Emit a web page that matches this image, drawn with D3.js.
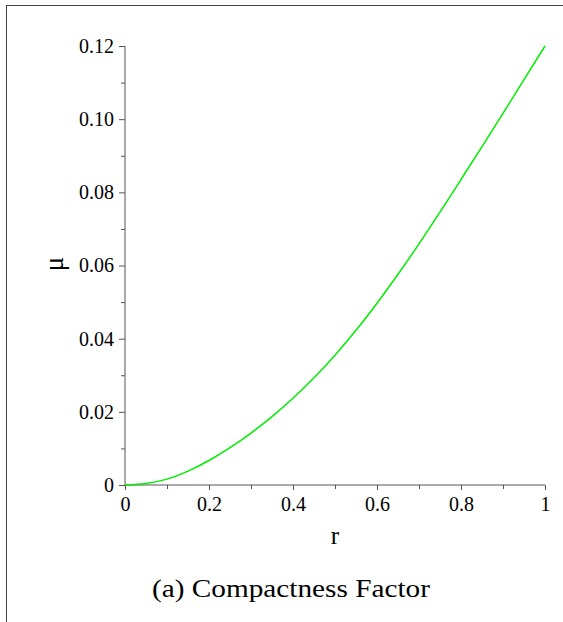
<!DOCTYPE html>
<html>
<head>
<meta charset="utf-8">
<script src="https://cdn.jsdelivr.net/npm/d3@7"></script>
<style>
  html, body { margin: 0; padding: 0; background: #fff; }
  svg { display: block; }
  text { font-family: "Liberation Serif", "Times New Roman", serif; fill: #000; }
</style>
</head>
<body>
<svg id="chart" width="563" height="622"></svg>
<script>
// Compactness factor mu(r) along the radius
const radius = [0, 0.05, 0.1, 0.15, 0.2, 0.25, 0.3, 0.35, 0.4, 0.45, 0.5,
                0.55, 0.6, 0.65, 0.7, 0.75, 0.8, 0.85, 0.9, 0.95, 1];
const mu = [0, 0.0004, 0.0016, 0.0038, 0.0067, 0.0102, 0.0142, 0.0187, 0.0237, 0.0293, 0.0355,
            0.0423, 0.0497, 0.0576, 0.0659, 0.0746, 0.0835, 0.0925, 0.1016, 0.1108, 0.1200];

const xTicks = [0, 0.2, 0.4, 0.6, 0.8, 1];
const xMinorTicks = [0.1, 0.3, 0.5, 0.7, 0.9];
const yTicks = [0, 0.02, 0.04, 0.06, 0.08, 0.10, 0.12];
const yMinorTicks = [0.01, 0.03, 0.05, 0.07, 0.09, 0.11];
const yTickLabels = ["0", "0.02", "0.04", "0.06", "0.08", "0.10", "0.12"];
const xTickLabels = ["0", "0.2", "0.4", "0.6", "0.8", "1"];

const svg = d3.select("#chart");
const axisColor = "#555";

// frame lines along the top and left edges
svg.append("line").attr("x1", 6).attr("x2", 563).attr("y1", 5.5).attr("y2", 5.5)
  .attr("stroke", "#444").attr("stroke-width", 1);
svg.append("line").attr("x1", 6.5).attr("x2", 6.5).attr("y1", 5).attr("y2", 622)
  .attr("stroke", "#444").attr("stroke-width", 1);

const x = d3.scaleLinear().domain([0, 1]).range([125, 545]);
const y = d3.scaleLinear().domain([0, 0.12]).range([485, 46]);

// x axis
const gx = svg.append("g").attr("transform", `translate(0,${y(0)})`);
gx.call(d3.axisBottom(x).tickValues(xTicks).tickSize(5).tickPadding(7)
  .tickFormat((d, i) => xTickLabels[i]));
gx.append("g").call(d3.axisBottom(x).tickValues(xMinorTicks).tickSize(4).tickFormat(""));
gx.selectAll("path.domain").attr("stroke", axisColor).attr("d", `M${x(0)},0H${x(1)}`);
gx.selectAll(".tick line").attr("stroke", axisColor);
gx.selectAll(".tick text").attr("font-size", 20).attr("font-family", "Liberation Serif").attr("fill", "#000");
gx.selectAll("g > g > path.domain").remove();

// y axis
const gy = svg.append("g").attr("transform", `translate(${x(0)},0)`);
gy.call(d3.axisLeft(y).tickValues(yTicks).tickSize(6).tickPadding(5)
  .tickFormat((d, i) => yTickLabels[i]));
gy.append("g").call(d3.axisLeft(y).tickValues(yMinorTicks).tickSize(4).tickFormat(""));
gy.selectAll("path.domain").attr("stroke", axisColor).attr("d", `M0,${y(0)}V${y(0.12)}`);
gy.selectAll(".tick line").attr("stroke", axisColor);
gy.selectAll(".tick text").attr("font-size", 20).attr("font-family", "Liberation Serif").attr("fill", "#000");
gy.selectAll("g > g > path.domain").remove();

// curve
const line = d3.line()
  .x((d, i) => x(radius[i]))
  .y(d => y(d))
  .curve(d3.curveMonotoneX);
svg.append("path")
  .datum(mu)
  .attr("d", line)
  .attr("fill", "none")
  .attr("stroke", "#00ee00")
  .attr("stroke-width", 1.5);

// axis titles
svg.append("text").attr("x", 335).attr("y", 544).attr("text-anchor", "middle")
  .attr("font-size", 25).text("r");
svg.append("text").attr("transform", "translate(63,264) rotate(-90)")
  .attr("text-anchor", "middle").attr("font-size", 27).text("μ");

// caption
svg.append("text").attr("x", 291).attr("y", 597).attr("text-anchor", "middle")
  .attr("font-size", 25).attr("textLength", 278).attr("lengthAdjust", "spacingAndGlyphs")
  .text("(a) Compactness Factor");
</script>
</body>
</html>
